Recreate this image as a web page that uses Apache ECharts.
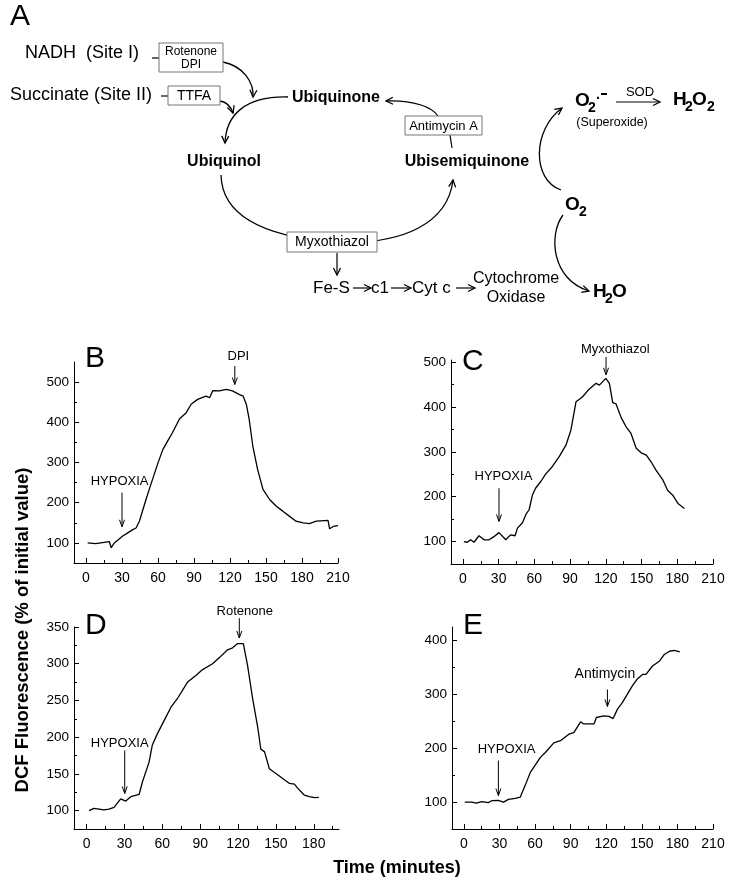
<!DOCTYPE html>
<html><head><meta charset="utf-8">
<script src="https://cdn.jsdelivr.net/npm/echarts@6/dist/echarts.min.js"></script>
<style>html,body{margin:0;padding:0;background:#fff}#c{width:732px;height:883px}</style>
</head><body><div id="c"></div>
<script>
// ---------- data ----------
const xLabels210 = [0,30,60,90,120,150,180,210];
const xLabels180 = [0,30,60,90,120,150,180];
const xMinorTicks = [15,45,75,105,135,165,195];
const yLabelsBC = [100,200,300,400,500];
const yMinorBC = [150,250,350,450];
const yLabelsD = [100,150,200,250,300,350];
const yMinorD = [125,175,225,275,325];
const yLabelsE = [100,200,300,400];
const yMinorE = [150,250,350];

const timeB = [1.4,8,19.5,21,23.6,30.6,34.8,39,41.7,44.5,50,54,60,64,68,72,78,83.5,87.6,93,100,103,105.7,111,117,122,128,131,133.6,136,139,143,147.5,153,158.6,164,169.7,175,181,186,192,201.7,203,206,210];
const valB  = [100,98,103,88,100,117,125,133,137,154,208,245,299,332,353,374,409,424,445,457,465,461,479,478,482,478,469,465,445,407,341,283,233,208,191,179,166,154,150,148,154,156,135,141,143];

const timeC = [0.8,3.7,6.5,9.3,13.5,17.7,22,26,30.3,36,40,43.8,45.8,50,53,55.6,58.4,61,65.4,69.6,75,81,86.5,90.7,95,100.5,106,111.8,114.6,120,123,125.8,128.6,132.8,137,141,145.5,149.7,154,158,162,168,172,176,180.6,186];
const valC  = [100,98.5,104,98.5,113,104,104,111,120,104,115,113,130,142,161,171,204,219,234,251,267,290,315,349,412,423,440,453,449,464,453,410,407,377,356,342,308,298,293,278,260,237,214,204,185,174];

const timeD = [1.9,5.8,9.8,13.8,17.7,21.7,27,31,35,41.6,44.2,49.5,52,56,61.4,66.7,72,80,86.6,91.9,99.8,105,111.7,115.7,119.7,124.2,127.6,131.6,135.6,138,141,144.8,150,155.4,160.7,164.7,167,172.6,176.6,180.6,184];
const valD  = [100,103,102,101,102,104.5,116,113,119,122,139,166,189,204.5,222.5,240.5,252.7,275,284,292,300,308,319,321.6,327.5,327.5,297,252,213.5,184,180,157,150.5,143.7,137,136,131,121,119,117.6,118];

const timeE = [0.8,6.5,10.7,15,20.6,23.5,29,33.4,37.6,43.3,47.5,51.7,56,60,64.5,68.7,75.8,81.4,88.5,92.7,98.4,101,109.7,111.7,118,122.4,125.8,129.5,133.7,142,146.4,150.7,153.5,159,165,169,173.3,177.5,182];
const valE  = [100,100,98,101,99,102.5,103,100,105,107,109,131,155,168,183,192,210,214,226,229,249,245,245,257,260,259,255,272.5,285,315.6,329,337,337,352.6,362,374,380,381.6,379];

// annotations (data coordinates): label, text anchor, arrow from, arrow to
const notesB = [['HYPOXIA',[28,253],[30,225],[30,140]], ['DPI',[127,565],[124,540],[124,494]]];
const notesC = [['HYPOXIA',[34,245],[30.3,219],[30.3,145]], ['Myxothiazol',[128,529],[120.2,512],[120.2,472]]];
const notesD = [['HYPOXIA',[26.2,191],[30.2,182],[30.2,123.4]], ['Rotenone',[125.3,371],[121,362],[121,335]]];
const notesE = [['HYPOXIA',[36,198.5],[29.1,177],[29.1,112]], ['Antimycin',[118.9,337],[121,309],[121,277.5]]];
const panelLetters = ['B','C','D','E'];

// ---------- layout / style ----------
const FF = '"Liberation Sans", Arial, Helvetica, sans-serif';
const panels = [
  {t:timeB, v:valB, xMax:210, xL:xLabels210, yMin:50, yMax:550, yL:yLabelsBC, yM:yMinorBC, notes:notesB,
   grid:{left:74, top:362, width:264, height:201}, letter:[85,359], noteSize:[13,13]},
  {t:timeC, v:valC, xMax:210, xL:xLabels210, yMin:50, yMax:505, yL:yLabelsBC, yM:yMinorBC, notes:notesC,
   grid:{left:451, top:360, width:262, height:204}, letter:[462,362], noteSize:[13,13]},
  {t:timeD, v:valD, xMax:200, xL:xLabels180, yMin:75, yMax:350, yL:yLabelsD, yM:yMinorD, notes:notesD,
   grid:{left:74, top:627, width:265, height:202}, letter:[85,626], noteSize:[13,13]},
  {t:timeE, v:valE, xMax:210, xL:xLabels210, yMin:50, yMax:425, yL:yLabelsE, yM:yMinorE, notes:notesE,
   grid:{left:452, top:627, width:261, height:202}, letter:[463,626], noteSize:[13,14]}
];

const grid = [], xAxis = [], yAxis = [], series = [];
panels.forEach((p, i) => {
  grid.push(Object.assign({containLabel:false}, p.grid));
  const axLine = {show:true, onZero:false, lineStyle:{color:'#000', width:1}};
  xAxis.push({type:'value', gridIndex:i, min:-10, max:p.xMax, position:'bottom',
    axisLine:axLine, splitLine:{show:false},
    axisTick:{show:true, inside:true, length:5, customValues:p.xL, lineStyle:{color:'#000'}},
    axisLabel:{customValues:p.xL, color:'#000', fontSize:14, margin:8, fontFamily:FF}});
  xAxis.push({type:'value', gridIndex:i, min:-10, max:p.xMax, position:'bottom',
    axisLine:{show:false, onZero:false}, splitLine:{show:false}, axisLabel:{show:false},
    axisTick:{show:true, inside:true, length:3, customValues:xMinorTicks.filter(v=>v<p.xMax), lineStyle:{color:'#000'}}});
  yAxis.push({type:'value', gridIndex:i, min:p.yMin, max:p.yMax, position:'left',
    axisLine:axLine, splitLine:{show:false},
    axisTick:{show:true, inside:true, length:5, customValues:p.yL, lineStyle:{color:'#000'}},
    axisLabel:{customValues:p.yL, color:'#000', fontSize:13.5, margin:5, fontFamily:FF}});
  yAxis.push({type:'value', gridIndex:i, min:p.yMin, max:p.yMax, position:'left',
    axisLine:{show:false, onZero:false}, splitLine:{show:false}, axisLabel:{show:false},
    axisTick:{show:true, inside:true, length:3, customValues:p.yM, lineStyle:{color:'#000'}}});
  series.push({type:'line', xAxisIndex:2*i, yAxisIndex:2*i, data:p.t.map((t,k)=>[t,p.v[k]]),
    showSymbol:false, symbol:'none', lineStyle:{color:'#000', width:1.3}, animation:false});
});

const chart = echarts.init(document.getElementById('c'));
chart.setOption({animation:false, backgroundColor:'#fff', grid, xAxis, yAxis, series});

// ---------- graphics helpers ----------
const G = [];
function T(x, y, s, size, o) {
  o = o || {};
  G.push({type:'text', x, y, z:20, rotation:o.rot||0, style:{text:s, fontSize:size, fontFamily:FF,
    fontWeight:o.bold?'bold':'normal', fill:'#000',
    align:o.align||'center', textAlign:o.align||'center', verticalAlign:'middle', textVerticalAlign:'middle'}});
}
function L(x1,y1,x2,y2,w) {
  G.push({type:'line', z:5, shape:{x1,y1,x2,y2}, style:{stroke:'#000', lineWidth:w||1.2}});
}
function AH(tx,ty,fx,fy,len,half,w) {
  len = len||7; half = half||3.5;
  const dx = tx-fx, dy = ty-fy, d = Math.hypot(dx,dy)||1, ux = dx/d, uy = dy/d;
  const bx = tx-ux*len, by = ty-uy*len;
  G.push({type:'polyline', z:6, shape:{points:[[bx-uy*half, by+ux*half],[tx,ty],[bx+uy*half, by-ux*half]]},
    style:{stroke:'#000', fill:'none', lineWidth:w||1.3}});
}
function BZ(x1,y1,c1x,c1y,c2x,c2y,x2,y2,arrow) {
  G.push({type:'bezierCurve', z:5, shape:{x1,y1,cpx1:c1x,cpy1:c1y,cpx2:c2x,cpy2:c2y,x2,y2},
    style:{stroke:'#000', fill:'none', lineWidth:1.3}});
  if (arrow) AH(x2,y2,c2x,c2y);
}
function R(x,y,w,h) {
  G.push({type:'rect', z:10, shape:{x,y,width:w,height:h}, style:{fill:'#fff', stroke:'#777', lineWidth:1}});
}

// ---------- panel A diagram ----------
T(10, 17, 'A', 30, {align:'left'});
T(25, 53, 'NADH  (Site I)', 18, {align:'left'});
L(152, 58, 159, 58);
R(159, 43, 64, 29);
T(191, 52, 'Rotenone', 12); T(191, 65, 'DPI', 12);
BZ(223,62, 243,66, 254,82, 253,97, true);
T(10, 95, 'Succinate (Site II)', 18, {align:'left'});
L(161, 96, 168, 96);
R(168, 86, 52, 19);
T(194, 96, 'TTFA', 14);
BZ(220,101, 227,102, 231,107, 233,113, true);
T(336, 98, 'Ubiquinone', 16, {bold:true});
BZ(288,97, 245,96, 226,115, 225,143, true);
T(224, 162, 'Ubiquinol', 16, {bold:true});
T(467, 162, 'Ubisemiquinone', 16, {bold:true});
BZ(221,175, 222,215, 262,236, 332,242, false);
BZ(332,242, 405,246, 448,222, 453,180, true);
R(287, 232, 90, 20);
T(332, 242, 'Myxothiazol', 14);
L(337, 253, 337, 274); AH(337,275,337,260);
T(313, 288, 'Fe-S', 17, {align:'left'});
L(353,288,370,288); AH(371,288,360,288);
T(371, 288, 'c1', 17, {align:'left'});
L(391,288,410,288); AH(411,288,400,288);
T(412, 288, 'Cyt c', 17, {align:'left'});
L(456,288,474,288); AH(475,288,464,288);
T(516, 279, 'Cytochrome', 16); T(516, 298, 'Oxidase', 16);
R(405, 116, 77, 19);
T(443.5, 126, 'Antimycin A', 13);
L(452,148,450,135);
BZ(438,116, 432,107, 414,100, 386,101, true);
// O2 centre
T(565, 205, 'O', 19, {bold:true, align:'left'}); T(579, 212, '2', 14, {bold:true, align:'left'});
BZ(561,190, 532,180, 532,130, 562,108, true);
BZ(563,215, 548,235, 552,280, 589,291, true);
// superoxide
T(575, 101, 'O', 19, {bold:true, align:'left'}); T(588, 108, '2', 14, {bold:true, align:'left'});
T(596, 99, '·', 14, {bold:true, align:'left'}); L(601,94,607,94,2);
T(640, 92, 'SOD', 13);
L(616,102,659,102); AH(660,102,650,102);
T(612, 123, '(Superoxide)', 12.5);
T(673, 100, 'H', 19, {bold:true, align:'left'}); T(685, 107, '2', 14, {bold:true, align:'left'});
T(692, 100, 'O', 19, {bold:true, align:'left'}); T(707, 107, '2', 14, {bold:true, align:'left'});
T(593, 292, 'H', 19, {bold:true, align:'left'}); T(605, 299, '2', 14, {bold:true, align:'left'});
T(612, 292, 'O', 19, {bold:true, align:'left'});

// ---------- chart annotations ----------
panels.forEach((p, i) => {
  const f = {xAxisIndex:2*i, yAxisIndex:2*i};
  T(p.letter[0], p.letter[1], panelLetters[i], 30, {align:'left'});
  p.notes.forEach((n, k) => {
    const tp = chart.convertToPixel(f, n[1]);
    const a = chart.convertToPixel(f, n[2]);
    const b = chart.convertToPixel(f, n[3]);
    T(tp[0], tp[1], n[0], p.noteSize[k]);
    L(a[0], a[1], b[0], b[1], 1);
    AH(b[0], b[1], a[0], a[1], 7, 2.5, 1);
  });
});
T(23, 630, 'DCF Fluorescence (% of initial value)', 18.5, {bold:true, rot:Math.PI/2});
T(397, 868, 'Time (minutes)', 18, {bold:true});

chart.setOption({graphic:{elements:G}});
</script></body></html>
